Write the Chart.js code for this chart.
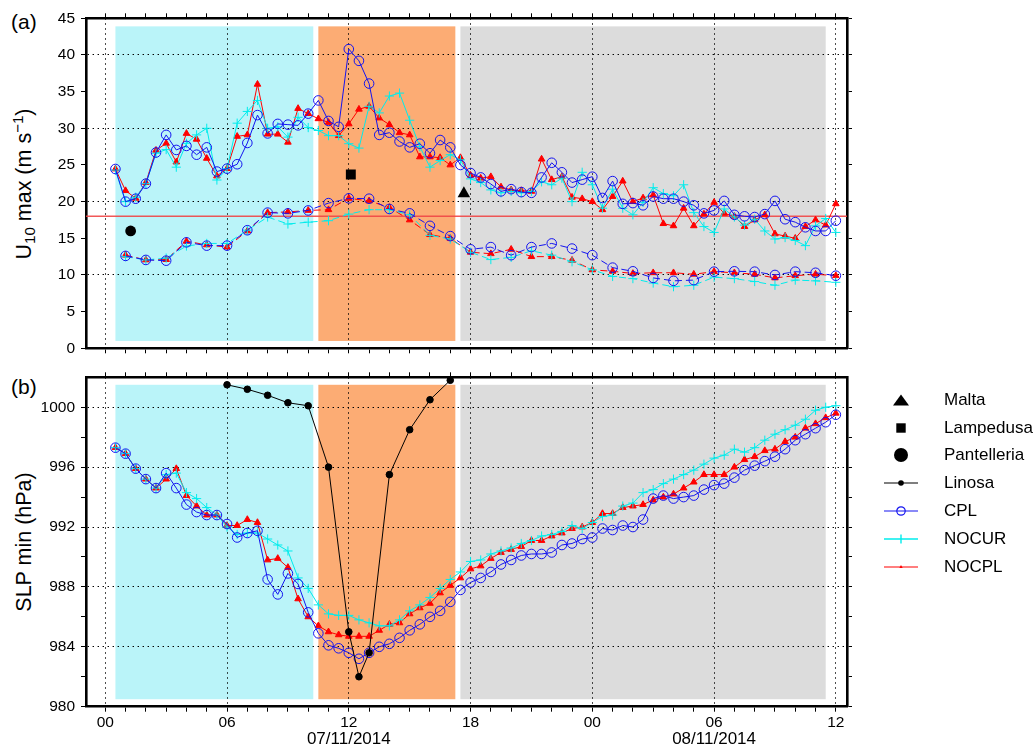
<!DOCTYPE html>
<html>
<head>
<meta charset="utf-8">
<script src="https://cdn.jsdelivr.net/npm/chart.js@4.4.1/dist/chart.umd.min.js"></script>
<style>
  body { margin: 0; background: #fff; width: 1035px; height: 747px; position: relative; overflow: hidden;
         font-family: "Liberation Sans", Arial, Helvetica, sans-serif; color: #000; }
  canvas { position: absolute; left: 0; }
  #chartA { top: 0; }
  #chartB { top: 360px; }
  .panel { position: absolute; left: 11px; font-size: 21px; line-height: 1; }
  .ytitle { position: absolute; font-size: 21.5px; line-height: 1; white-space: nowrap;
            transform: translate(-50%, -50%) rotate(-90deg); }
  .ytitle sub, .ytitle sup { font-size: 0.7em; line-height: 0; }
  .ytitle sub { vertical-align: -0.25em; }
  .ytitle sup { vertical-align: 0.55em; }
  #legend { position: absolute; left: 881px; top: 386px; }
  #legend .row { height: 27.8px; display: flex; align-items: center; font-size: 17px; }
  #legend svg { width: 44px; height: 26px; margin-right: 19px; flex: none; }
</style>
</head>
<body>
<div class="panel" style="top:11px">(a)</div>
<div class="panel" style="top:376px">(b)</div>
<div class="ytitle" style="left:25px;top:184px">U<sub>10</sub> max (m s<sup>−1</sup>)</div>
<div class="ytitle" style="left:25px;top:542px">SLP min (hPa)</div>
<canvas id="chartA" width="1035" height="365"></canvas>
<canvas id="chartB" width="1035" height="387"></canvas>
<div id="legend"></div>

<script>
// time axis: hours since 07/11/2014 00 UTC
const halfHours = Array.from({ length: 72 }, (_, i) => 0.5 + i * 0.5);
const hours = Array.from({ length: 36 }, (_, i) => 1 + i);

const xTickHours = Array.from({ length: 37 }, (_, i) => i);
const xLabelHours = [0, 6, 12, 18, 24, 30, 36];
const xLabels = ['00', '06', '12', '18', '00', '06', '12'];
const dateHours = [12, 30];
const dateLabels = ['07/11/2014', '08/11/2014'];

const uTicks = [0, 5, 10, 15, 20, 25, 30, 35, 40, 45];
const uGrid = [10, 20, 30, 40];
const slpTicks = [980, 982, 984, 986, 988, 990, 992, 994, 996, 998, 1000];
const slpLabels = [980, 984, 988, 992, 996, 1000];
const slpGrid = [984, 988, 992, 996, 1000];

// shaded periods
const periodStart = [0.5, 10.5, 17.5];
const periodEnd = [10.25, 17.25, 35.5];
const periodColors = ['#baf4f9', '#fcac74', '#dcdcdc'];

// (a) U10 max, half-hourly (solid)
const cplMax = [24.45, 20.0, 20.4, 22.45, 26.7, 29.1, 27.05, 27.6, 26.4, 27.4, 24.1, 24.5,
  25.1, 28.0, 31.8, 29.3, 30.6, 30.5, 30.4, 32.0, 33.8, 31.0, 30.2, 40.8,
  39.2, 36.1, 29.1, 29.4, 28.2, 27.4, 27.9, 26.6, 28.4, 27.4, 25.0, 23.9,
  23.3, 22.4, 21.4, 21.7, 21.3, 21.2, 23.3, 25.3, 24.0, 22.6, 23.0, 23.4,
  20.5, 22.8, 19.7, 19.8, 19.5, 20.7, 20.4, 20.4, 20.0, 19.5, 18.4, 18.8,
  20.1, 18.2, 18.0, 17.9, 18.3, 20.1, 17.6, 17.2, 16.5, 16.0, 16.0, 17.4];
const nocurMax = [24.3, 20.0, 20.6, 22.45, 26.6, 27.1, 24.7, 27.95, 29.1, 30.0, 22.95, 24.5,
  30.7, 32.3, 33.8, 30.0, 30.2, 28.8, 31.5, 30.1, 29.7, 29.0, 29.0, 27.9,
  27.3, 33.0, 32.1, 34.4, 34.8, 31.1, 27.5, 24.7, 25.6, 26.4, 25.7, 23.1,
  22.6, 21.6, 21.2, 21.4, 21.2, 21.4, 22.7, 22.3, 23.2, 20.0, 24.0, 22.3,
  19.1, 21.7, 19.1, 18.2, 19.9, 21.9, 21.1, 20.8, 22.3, 18.5, 16.6, 15.8,
  19.0, 17.9, 16.8, 17.6, 16.0, 14.9, 15.1, 14.7, 14.0, 16.7, 17.7, 15.8];
const nocplMax = [24.45, 21.5, 20.45, 22.6, 27.0, 27.95, 25.4, 29.3, 28.5, 25.9, 23.5, 24.5,
  28.9, 29.1, 36.0, 29.2, 29.2, 28.1, 32.7, 32.0, 31.3, 30.8, 29.0, 30.6,
  32.6, 33.0, 31.4, 30.5, 29.4, 29.1, 26.1, 26.1, 26.0, 25.0, 26.0, 23.6,
  23.2, 23.4, 22.0, 21.6, 21.5, 21.4, 25.8, 23.0, 23.4, 20.6, 20.4, 20.0,
  18.9, 20.7, 22.8, 20.0, 20.5, 20.9, 17.0, 16.7, 19.1, 16.7, 18.3, 19.9,
  18.4, 18.0, 16.6, 17.5, 18.2, 15.6, 15.3, 15.0, 16.6, 17.5, 16.8, 19.7];

// (a) hourly (dashed)
const cplHourly = [12.6, 12.05, 11.95, 14.45, 14.0, 14.0, 16.1, 18.5, 18.4, 18.8, 19.8, 20.45,
  20.4, 19.0, 18.4, 16.7, 15.3, 13.5, 13.8, 12.7, 13.8, 14.3, 13.6, 12.7,
  11.0, 10.5, 9.6, 9.2, 9.3, 10.45, 10.5, 10.45, 10.0, 10.45, 10.3, 9.9];
const nocurHourly = [12.5, 12.05, 12.3, 13.95, 14.3, 14.3, 16.1, 17.9, 16.95, 17.2, 17.4, 18.3,
  18.9, 18.9, 18.2, 15.4, 14.9, 13.1, 12.1, 12.4, 13.3, 12.7, 11.8, 10.7,
  9.8, 9.5, 8.9, 8.4, 8.6, 9.7, 9.5, 9.1, 8.6, 9.3, 9.2, 9.0];
const nocplHourly = [12.7, 12.05, 12.1, 14.6, 14.1, 13.8, 16.0, 18.5, 18.6, 18.8, 18.9, 20.45,
  20.1, 19.2, 17.5, 15.5, 15.0, 13.1, 12.9, 13.5, 12.5, 12.5, 12.0, 10.7,
  10.5, 10.2, 10.3, 10.3, 10.1, 10.45, 10.3, 10.1, 9.6, 9.9, 10.1, 9.9];

// station maxima (a)
const stationNames = ['Malta', 'Lampedusa', 'Pantelleria'];
const stationHours = [17.67, 12.1, 1.25];
const stationU10 = [21.1, 23.7, 16.0];
const u10Threshold = 18;

// (b) SLP min, half-hourly
const cplSlp = [997.3, 996.9, 995.9, 995.2, 994.6, 995.6, 994.6, 993.5, 993.0, 992.8, 992.8, 992.2,
  991.3, 991.6, 991.75, 988.5, 987.5, 988.9, 988.2, 986.3, 984.9, 984.1, 983.9, 983.6,
  983.2, 983.6, 984.0, 984.2, 984.6, 985.1, 985.5, 986.0, 986.4, 987.0, 987.8, 988.3,
  988.6, 989.0, 989.5, 989.8, 990.1, 990.2, 990.2, 990.3, 990.8, 990.9, 991.2, 991.3,
  991.9, 991.8, 992.1, 992.0, 992.5, 993.9, 994.1, 993.9, 994.0, 994.1, 994.5, 994.8,
  994.9, 995.3, 995.8, 996.1, 996.4, 996.7, 997.2, 997.8, 998.2, 998.6, 999.0, 999.5];
const nocurSlp = [997.3, 996.9, 995.9, 995.2, 994.6, 995.5, 995.6, 994.3, 993.9, 993.3, 992.8, 992.0,
  991.5, 991.6, 991.6, 991.2, 990.8, 990.4, 988.6, 987.9, 986.8, 986.2, 986.1, 986.1,
  985.8, 985.6, 985.4, 985.4, 985.8, 986.4, 986.8, 987.3, 987.9, 988.5, 989.0, 989.7,
  989.8, 990.2, 990.4, 990.6, 990.9, 991.1, 991.4, 991.5, 991.7, 992.1, 991.9, 992.3,
  992.7, 992.8, 993.4, 993.6, 994.3, 994.5, 994.9, 995.2, 995.5, 995.8, 996.2, 996.6,
  996.8, 997.2, 997.0, 997.3, 997.8, 998.2, 998.5, 998.8, 999.2, 999.8, 1000.0, 1000.1];
const nocplSlp = [997.3, 996.9, 995.9, 995.2, 994.6, 995.2, 995.9, 994.1, 993.4, 992.8, 992.8, 992.1,
  992.1, 992.5, 992.3, 989.8, 989.9, 989.3, 987.2, 986.0, 985.4, 985.0, 984.8, 984.7,
  984.7, 984.7, 985.1, 985.5, 985.6, 986.2, 986.6, 986.9, 987.6, 988.1, 988.6, 989.2,
  989.4, 989.9, 990.3, 990.5, 990.7, 991.1, 991.1, 991.4, 991.6, 991.9, 992.0, 992.3,
  992.9, 992.9, 993.3, 993.4, 993.5, 993.8, 994.0, 994.2, 994.6, 995.0, 995.5, 995.5,
  995.5, 996.0, 996.5, 996.7, 997.1, 997.2, 997.7, 998.0, 998.6, 998.9, 999.3, 999.6];

// Linosa station SLP
const linosaHours = [6, 7, 8, 9, 10, 11, 12, 12.5, 13, 14, 15, 16, 17];
const linosaSlp = [1001.5, 1001.2, 1000.8, 1000.3, 1000.1, 996.0, 985.0, 982.0, 983.6, 995.5, 998.5, 1000.5, 1001.8];

const legendNames = ['Malta', 'Lampedusa', 'Pantelleria', 'Linosa', 'CPL', 'NOCUR', 'NOCPL'];

const BLUE = '#1414f0', CYAN = '#00ecec', RED = '#ff0000';
const X_MIN = -0.95, X_MAX = 36.55;

Chart.defaults.font.family = '"Liberation Sans", Arial, Helvetica, sans-serif';
Chart.defaults.color = '#000';

const pts = (xs, ys) => xs.map((x, i) => ({ x: x, y: ys[i] }));

function series(label, xs, ys, color, style, opts) {
  return Object.assign({
    label: label,
    data: pts(xs, ys),
    borderColor: color,
    borderWidth: 1,
    pointStyle: style,
    pointRadius: 4.8,
    pointBorderWidth: 1,
    pointBorderColor: color,
    pointBackgroundColor: 'rgba(0,0,0,0)',
    tension: 0,
    fill: false
  }, opts || {});
}

function xLabel(value) {
  const i = xLabelHours.indexOf(value);
  return i < 0 ? '' : xLabels[i];
}

function dateLabel(value) {
  const i = dateHours.indexOf(value);
  return i < 0 ? '' : dateLabels[i];
}

function panelScales(p) {
  const frame = { display: true, color: '#000', width: 2.6, dash: [1.4, 3.6] };
  const gridIf = list => c => (c.tick && list.includes(c.tick.value)) ? '#000' : 'rgba(0,0,0,0)';
  const setX = s => { s.ticks = xTickHours.map(v => ({ value: v })); };
  const setY = s => { s.ticks = p.yTicks.map(v => ({ value: v })); };
  const scales = {
    x: {
      type: 'linear', position: 'bottom', min: X_MIN, max: X_MAX, weight: 0,
      afterBuildTicks: setX,
      afterFit: s => { s.height = p.bottomH; },
      border: frame,
      grid: { color: gridIf(xLabelHours), tickColor: '#000', tickLength: 5, lineWidth: 1 },
      ticks: { display: p.xLabels, autoSkip: false, maxRotation: 0, padding: 2,
               font: { size: 15.5, lineHeight: 1.1 }, color: '#000', callback: xLabel }
    },
    xTop: {
      type: 'linear', position: 'top', min: X_MIN, max: X_MAX,
      afterBuildTicks: setX,
      afterFit: s => { s.height = p.topH; },
      border: frame,
      grid: { drawOnChartArea: false, color: '#000', tickColor: '#000', tickLength: 5 },
      ticks: { display: false }
    },
    y: {
      type: 'linear', position: 'left', min: p.yMin, max: p.yMax,
      afterBuildTicks: setY,
      afterFit: s => { s.width = 86; },
      border: frame,
      grid: { color: gridIf(p.yGrid), tickColor: '#000', tickLength: 5, lineWidth: 1 },
      ticks: { padding: 6, font: { size: 15.5 }, color: '#000',
               callback: v => p.yLabels.includes(v) ? String(v) : '' }
    },
    yRight: {
      type: 'linear', position: 'right', min: p.yMin, max: p.yMax,
      afterBuildTicks: setY,
      afterFit: s => { s.width = 188; },
      border: frame,
      grid: { drawOnChartArea: false, color: '#000', tickColor: '#000', tickLength: 5 },
      ticks: { display: false }
    }
  };
  if (p.dateH) {
    scales.xDate = {
      type: 'linear', position: 'bottom', min: X_MIN, max: X_MAX, weight: 1,
      afterBuildTicks: s => { s.ticks = dateHours.map(v => ({ value: v })); },
      afterFit: s => { s.height = p.dateH; },
      border: { display: false },
      grid: { display: false, drawTicks: false, tickLength: 0 },
      ticks: { autoSkip: false, maxRotation: 0, padding: 0,
               font: { size: 17, lineHeight: 1 }, color: '#000', callback: dateLabel }
    };
  }
  return scales;
}

// shaded periods behind the grid
const periodsPlugin = {
  id: 'periods',
  beforeDraw(chart, args, opts) {
    const { ctx, chartArea: a, scales: { x, y } } = chart;
    ctx.save();
    ctx.beginPath();
    ctx.rect(a.left, a.top, a.width, a.height);
    ctx.clip();
    const yTop = y.getPixelForValue(opts.top), yBot = y.getPixelForValue(opts.bottom);
    periodStart.forEach((s, i) => {
      const x0 = x.getPixelForValue(s), x1 = x.getPixelForValue(periodEnd[i]);
      ctx.fillStyle = periodColors[i];
      ctx.fillRect(x0, yTop, x1 - x0, yBot - yTop);
    });
    ctx.restore();
  }
};

// horizontal reference line
const thresholdPlugin = {
  id: 'threshold',
  beforeDatasetsDraw(chart, args, opts) {
    if (opts.value === undefined) return;
    const { ctx, chartArea: a, scales: { y } } = chart;
    const py = y.getPixelForValue(opts.value);
    ctx.save();
    ctx.strokeStyle = 'rgba(240,70,70,0.9)';
    ctx.lineWidth = 1.5;
    ctx.beginPath();
    ctx.moveTo(a.left, py);
    ctx.lineTo(a.right, py);
    ctx.stroke();
    ctx.restore();
  }
};

const baseOptions = {
  responsive: false,
  animation: false,
  layout: { padding: 0 },
  plugins: { legend: { display: false }, tooltip: { enabled: false } }
};

const dashed = [7, 4];
const stationStyles = ['triangle', 'rect', 'circle'];
const stationRadius = [7.2, 7, 5.4];

new Chart(document.getElementById('chartA'), {
  type: 'line',
  data: {
    datasets: [
      ...stationNames.map((n, i) => ({
        label: n, data: [{ x: stationHours[i], y: stationU10[i] }], showLine: false,
        pointStyle: stationStyles[i], pointRadius: stationRadius[i],
        pointBackgroundColor: '#000', pointBorderColor: '#000', pointBorderWidth: 0, order: 0
      })),
      series('CPL', halfHours, cplMax, BLUE, 'circle', { order: 1 }),
      series('NOCUR', halfHours, nocurMax, CYAN, 'cross', { order: 2, pointRadius: 4.6 }),
      series('NOCPL', halfHours, nocplMax, RED, 'triangle', { order: 3, pointRadius: 3.8, pointBackgroundColor: RED }),
      series('CPL', hours, cplHourly, BLUE, 'circle', { order: 1, borderDash: dashed }),
      series('NOCUR', hours, nocurHourly, CYAN, 'cross', { order: 2, pointRadius: 4.6, borderDash: dashed }),
      series('NOCPL', hours, nocplHourly, RED, 'triangle', { order: 3, pointRadius: 3.8, pointBackgroundColor: RED, borderDash: dashed })
    ]
  },
  options: Object.assign({}, baseOptions, {
    scales: panelScales({ yMin: 0, yMax: 45, yTicks: uTicks, yLabels: uTicks, yGrid: uGrid,
                          xLabels: false, topH: 18.3, bottomH: 16.7 }),
    plugins: Object.assign({}, baseOptions.plugins, {
      periods: { top: 43.9, bottom: 1 },
      threshold: { value: u10Threshold }
    })
  }),
  plugins: [periodsPlugin, thresholdPlugin]
});

new Chart(document.getElementById('chartB'), {
  type: 'line',
  data: {
    datasets: [
      series('Linosa', linosaHours, linosaSlp, '#000', 'circle',
             { order: 0, pointRadius: 3.3, pointBackgroundColor: '#000' }),
      series('CPL', halfHours, cplSlp, BLUE, 'circle', { order: 1 }),
      series('NOCUR', halfHours, nocurSlp, CYAN, 'cross', { order: 2, pointRadius: 4.6 }),
      series('NOCPL', halfHours, nocplSlp, RED, 'triangle', { order: 3, pointRadius: 3.8, pointBackgroundColor: RED })
    ]
  },
  options: Object.assign({}, baseOptions, {
    scales: panelScales({ yMin: 980, yMax: 1002, yTicks: slpTicks, yLabels: slpLabels, yGrid: slpGrid,
                          xLabels: true, topH: 17.3, bottomH: 24, dateH: 16.3 }),
    plugins: Object.assign({}, baseOptions.plugins, {
      periods: { top: 1001.5, bottom: 980.5 },
      threshold: {}
    })
  }),
  plugins: [periodsPlugin, thresholdPlugin]
});

// legend
const symbols = {
  Malta: '<polygon points="12,18.4 28,18.4 20,7.6" fill="#000"/>',
  Lampedusa: '<rect x="15.3" y="8.3" width="9.4" height="9.4" fill="#000"/>',
  Pantelleria: '<circle cx="20" cy="13" r="7" fill="#000"/>',
  Linosa: '<line x1="3" y1="13" x2="37" y2="13" stroke="#000" stroke-width="1.2"/><circle cx="20" cy="13" r="2.8" fill="#000"/>',
  CPL: '<line x1="3" y1="13" x2="37" y2="13" stroke="' + BLUE + '" stroke-width="1.2"/><circle cx="20" cy="13" r="4.2" fill="none" stroke="' + BLUE + '" stroke-width="1.2"/>',
  NOCUR: '<line x1="3" y1="13" x2="37" y2="13" stroke="' + CYAN + '" stroke-width="1.4"/><line x1="20" y1="8.6" x2="20" y2="17.4" stroke="' + CYAN + '" stroke-width="1.4"/>',
  NOCPL: '<line x1="3" y1="13" x2="37" y2="13" stroke="' + RED + '" stroke-width="1.2"/><polygon points="18.3,14 21.7,14 20,11" fill="' + RED + '"/>'
};
document.getElementById('legend').innerHTML = legendNames.map(n =>
  '<div class="row"><svg viewBox="0 0 44 26">' + symbols[n] + '</svg><span>' + n + '</span></div>').join('');
</script>
</body>
</html>
